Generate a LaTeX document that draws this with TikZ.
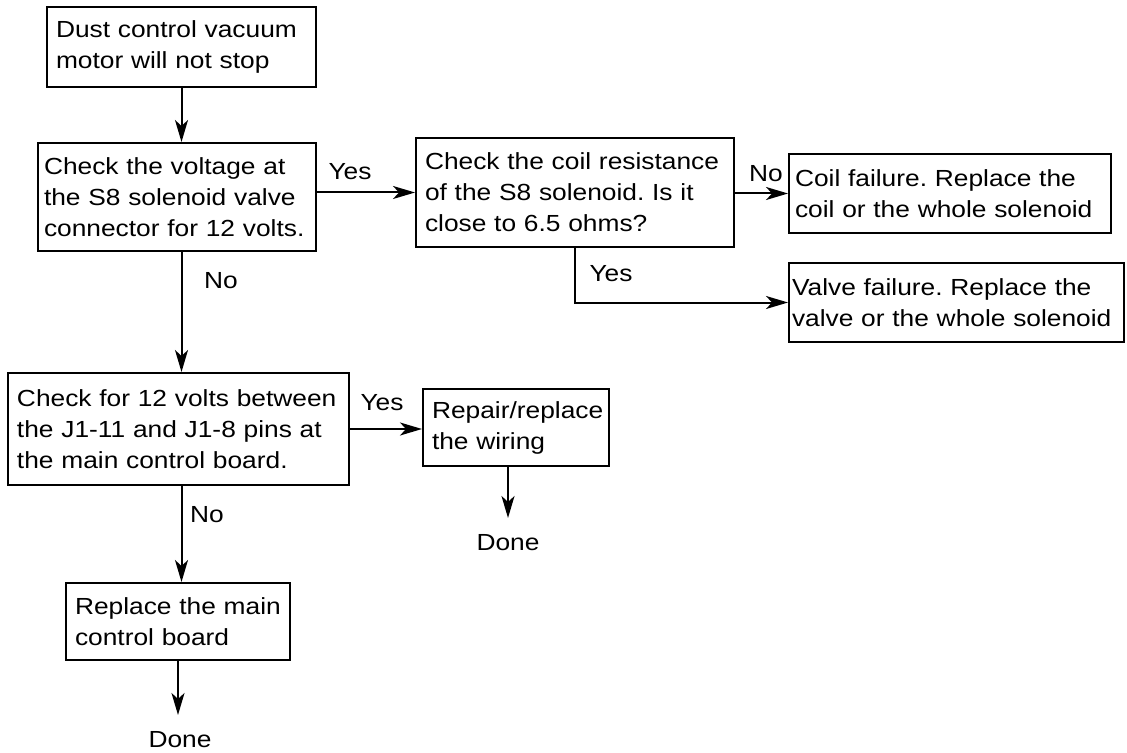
\documentclass[tikz,border=0pt]{standalone}
\usepackage{fontspec}
\setmainfont{Liberation Sans}[FakeStretch=1.13]
\usepackage{tikz}
\usetikzlibrary{arrows.meta}
\frenchspacing
\tikzset{
  flowbox/.style={draw=black, line width=1pt, fill=white, align=left,
    inner xsep=4.5pt, inner ysep=0pt},
  flowarrow/.style={-{Stealth[length=11pt, width=6.5pt, inset=3pt]}, line width=1pt, black},
  flowlabel/.style={anchor=base, inner sep=0pt},
  flowend/.style={anchor=base, inner sep=0pt, outer ysep=8pt},
}

\begin{document}
\begin{tikzpicture}[x=0.5pt, y=-0.5pt, every node/.style={font=\fontsize{11.65pt}{15.5pt}\selectfont}]
  \useasboundingbox (0,0) rectangle (1127,753);
  % Kaesten
  \node[flowbox, minimum width=134.5pt, minimum height=40pt, text width=125.5pt] (start) at (181.5,47)
    {Dust control vacuum\\motor will not stop};
  \node[flowbox, inner xsep=3pt, minimum width=139pt, minimum height=54pt, text width=133pt] (voltage) at (177,197)
    {Check the voltage at\\the S8 solenoid valve\\connector for 12 volts.};
  \node[flowbox, minimum width=159pt, minimum height=54.5pt, text width=150pt] (coil) at (575,192.5)
    {Check the coil resistance\\of the S8 solenoid. Is it\\close to 6.5 ohms?};
  \node[flowbox, inner xsep=3pt, minimum width=161pt, minimum height=39.5pt, text width=155pt] (coilfail) at (950,193.5)
    {Coil failure. Replace the\\coil or the whole solenoid};
  \node[flowbox, inner xsep=1.5pt, minimum width=167.5pt, minimum height=39.5pt, text width=164.5pt] (valvefail) at (956.5,302.5)
    {Valve failure. Replace the\\valve or the whole solenoid};
  \node[flowbox, minimum width=170.5pt, minimum height=56pt, text width=161.5pt] (pins) at (178.5,429)
    {Check for 12 volts between\\the J1-11 and J1-8 pins at\\the main control board.};
  \node[flowbox, minimum width=93pt, minimum height=38.5pt, text width=84pt] (wiring) at (516,427.5)
    {Repair/replace\\the wiring};
  \node[flowbox, minimum width=112pt, minimum height=38.5pt, text width=103pt] (board) at (178,621.5)
    {Replace the main\\control board};
  \node[flowend] (done1) at (508,550) {Done};
  \node[flowend] (done2) at (180,747) {Done};

  % Pfeile
  \draw[flowarrow] (start.south) -- (start.south |- voltage.north);
  \draw[flowarrow] (coil.west -| voltage.east) -- (coil.west);
  \draw[flowarrow] (coilfail.west -| coil.east) -- (coilfail.west);
  \draw[flowarrow] (coil.south) |- (valvefail.west);
  \draw[flowarrow] (voltage.south -| start.south) -- (pins.north -| start.south);
  \draw[flowarrow] (pins.east) -- (pins.east -| wiring.west);
  \draw[flowarrow] (done1.north |- wiring.south) -- (done1.north);
  \draw[flowarrow] (pins.south -| start.south) -- (board.north -| start.south);
  \draw[flowarrow] (board.south) -- (board.south |- done2.north);

  % Beschriftungen
  \node[flowlabel] (yes1) at (350,180) {Yes};
  \node[flowlabel] (no1) at (766,182) {No};
  \node[flowlabel] (yes2) at (611,281) {Yes};
  \node[flowlabel] (no2) at (221,288) {No};
  \node[flowlabel] (yes3) at (382,410) {Yes};
  \node[flowlabel] (no3) at (207,522) {No};
\end{tikzpicture}
\end{document}
